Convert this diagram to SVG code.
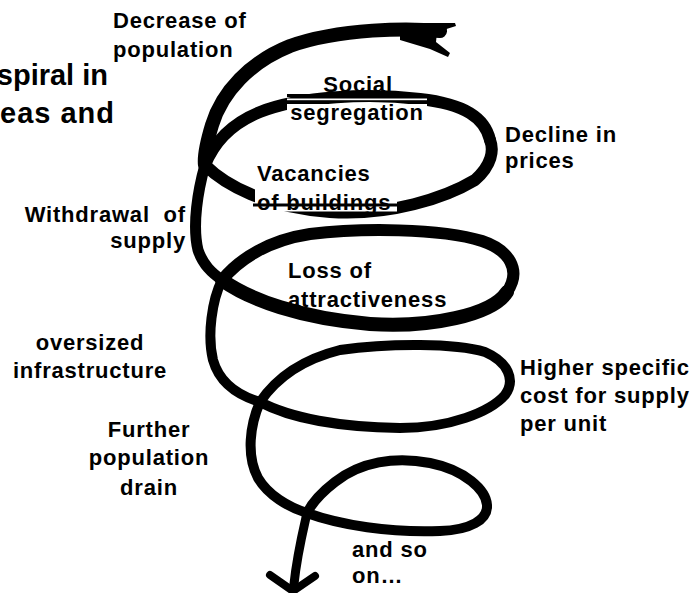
<svg xmlns="http://www.w3.org/2000/svg" width="696" height="593" viewBox="0 0 696 593">
<style>
.s{fill:none;stroke:#000;stroke-linecap:round;stroke-linejoin:round}
.t{font-family:"Liberation Sans",Arial,Helvetica,sans-serif;font-weight:bold;font-size:22px;letter-spacing:0.8px;fill:#000}
.title{font-family:"Liberation Sans",Arial,Helvetica,sans-serif;font-weight:bold;font-size:29px;fill:#000}
.w{fill:#fff}
</style>
<rect width="696" height="593" fill="#fff"/>
<g id="spiral">
<path class="s" stroke-width="14" d="M440,31 C410,28 340,28 290,46 C250,62 222,92 212,125 C206,145 204,158 205,165"/>
<path d="M400,23 L455,23 L456,26 L437,32 L436,42 L450,53 L448,57 L430,49 L400,40 Z" fill="#000"/>
<path class="s" stroke-width="12" d="M205,165 C225,185 265,207 330,212 C390,216 445,198 475,180 C492,165 494,150 490,140"/>
<path class="s" stroke-width="12" d="M490,140 C485,118 465,104 420,99 C370,93 300,96 260,112 C235,122 215,140 205,165"/>
<path class="s" stroke-width="11" d="M205,165 C198,190 192,225 198,250 C203,265 212,273 222,280"/>
<path class="s" stroke-width="14" d="M222,280 C250,300 300,318 370,324 C430,328 492,315 507,292"/>
<path class="s" stroke-width="12" d="M507,292 C522,270 509,250 482,241 C440,228 360,228 310,234 C270,240 240,258 222,280"/>
<path class="s" stroke-width="10" d="M222,280 C212,300 207,335 213,360 C220,385 240,396 260,402"/>
<path class="s" stroke-width="10" d="M260,402 C290,418 340,427 400,428 C450,428 490,412 505,395 C516,380 508,362 485,352 C455,343 390,343 340,350 C300,360 275,380 260,402"/>
<path class="s" stroke-width="10" d="M260,402 C250,425 246,455 258,478 C268,495 288,507 307,513"/>
<path class="s" stroke-width="10" d="M307,513 C340,525 390,533 440,531 C470,530 488,520 487,505 C486,490 465,470 430,463 C395,456 360,462 335,482 C322,492 312,503 307,513"/>
<path class="s" stroke-width="9" d="M307,513 C302,535 297,555 294,584"/>
<path class="s" stroke-width="8" d="M270,575 L293,591 L315,576"/>
</g>
<g id="title">
<text class="title" x="108" y="85" text-anchor="end">spiral in</text>
<text class="title" x="115" y="123" text-anchor="end" style="letter-spacing:1px">eas and</text>
</g>
<g id="decrease">
<text class="t" x="113" y="28">Decrease of</text>
<text class="t" x="113" y="57">population</text>
</g>
<g id="social">
<rect class="w" x="287" y="98.5" width="140" height="1.7"/>
<rect class="w" x="287" y="104" width="140" height="21"/>
<rect x="287" y="94" width="140" height="3" fill="#000"/>
<text class="t" x="358" y="92" text-anchor="middle">Social</text>
<text class="t" x="357" y="120" text-anchor="middle">segregation</text>
</g>
<g id="decline">
<text class="t" x="505" y="142">Decline in</text>
<text class="t" x="505" y="168">prices</text>
</g>
<g id="vacancies">
<rect class="w" x="255" y="186" width="142" height="25.5"/>
<text class="t" x="257" y="181">Vacancies</text>
<text class="t" x="257" y="210">of buildings</text>
<rect x="253" y="203.5" width="144" height="3" fill="#000"/>
</g>
<g id="withdrawal">
<text class="t" x="186" y="222" text-anchor="end" style="white-space:pre">Withdrawal  of</text>
<text class="t" x="186" y="248" text-anchor="end">supply</text>
</g>
<g id="loss">
<text class="t" x="288" y="278">Loss of</text>
<text class="t" x="288" y="307">attractiveness</text>
</g>
<g id="oversized">
<text class="t" x="90" y="350" text-anchor="middle">oversized</text>
<text class="t" x="90" y="378" text-anchor="middle">infrastructure</text>
</g>
<g id="higher">
<text class="t" x="520" y="375">Higher specific</text>
<text class="t" x="520" y="403">cost for supply</text>
<text class="t" x="520" y="431">per unit</text>
</g>
<g id="further">
<text class="t" x="149" y="437" text-anchor="middle">Further</text>
<text class="t" x="149" y="465" text-anchor="middle">population</text>
<text class="t" x="149" y="495" text-anchor="middle">drain</text>
</g>
<g id="andso">
<text class="t" x="352" y="557">and so</text>
<text class="t" x="352" y="583">on…</text>
</g>
</svg>
